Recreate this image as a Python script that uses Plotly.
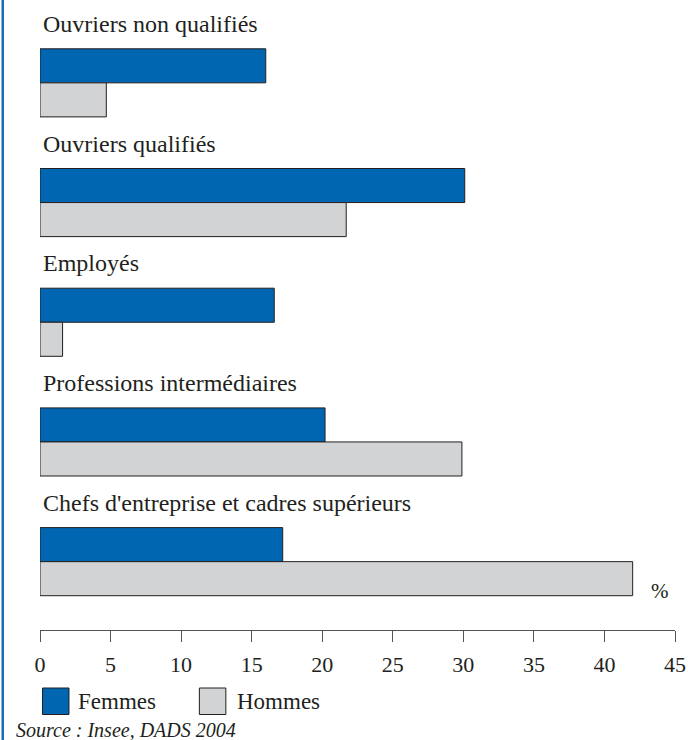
import plotly.graph_objects as go

# Part des salariés par catégorie socioprofessionnelle (%)
categories = [
    "Ouvriers non qualifiés",
    "Ouvriers qualifiés",
    "Employés",
    "Professions intermédiaires",
    "Chefs d'entreprise et cadres supérieurs",
]
femmes = [16.0, 30.1, 16.6, 20.2, 17.2]
hommes = [4.7, 21.7, 1.6, 29.9, 42.0]
x_ticks = [0, 5, 10, 15, 20, 25, 30, 35, 40, 45]

W, H = 688, 740
L, R, T, B = 40, 12.5, 23, 110
plot_w = W - L - R
plot_h = H - T - B

BLUE = "#0066b2"
GREY = "#d1d3d4"
EDGE = "#231f20"
TEXT = "#231f20"
FONT = "Times New Roman"


def px_x(px):
    return (px - L) / plot_w


def px_y(py):
    return (H - B - py) / plot_h


fig = go.Figure()
fig.add_trace(go.Bar(
    y=categories, x=femmes, orientation="h", name="Femmes",
    marker=dict(color=BLUE, line=dict(color=EDGE, width=1)),
    hoverinfo="x+name",
))
fig.add_trace(go.Bar(
    y=categories, x=hommes, orientation="h", name="Hommes",
    marker=dict(color=GREY, line=dict(color=EDGE, width=1)),
    hoverinfo="x+name",
))

# category titles above each pair of bars
annotations = []
for i, cat in enumerate(categories):
    annotations.append(dict(
        x=0, y=i, xref="x", yref="y", text=cat, showarrow=False,
        xanchor="left", yanchor="middle", xshift=1, yshift=59,
        font=dict(family=FONT, size=24, color=TEXT),
    ))

# unit
annotations.append(dict(
    x=px_x(660), y=px_y(591), xref="paper", yref="paper", text="%",
    showarrow=False, xanchor="center", yanchor="middle",
    font=dict(family=FONT, size=21, color=TEXT),
))

# legend
shapes = []
legend_items = [("Femmes", BLUE, 42.5, 76), ("Hommes", GREY, 199.5, 235)]
for label, col, x0, tx in legend_items:
    shapes.append(dict(
        type="rect", xref="paper", yref="paper",
        x0=px_x(x0), x1=px_x(x0 + 26.5), y0=px_y(714.5), y1=px_y(688),
        fillcolor=col, line=dict(color=EDGE, width=1),
    ))
    annotations.append(dict(
        x=px_x(tx), y=px_y(701), xref="paper", yref="paper", text=label,
        showarrow=False, xanchor="left", yanchor="middle",
        font=dict(family=FONT, size=23, color=TEXT),
    ))

# source
annotations.append(dict(
    x=px_x(14), y=px_y(730), xref="paper", yref="paper",
    text="<i>Source : Insee, DADS 2004</i>",
    showarrow=False, xanchor="left", yanchor="middle",
    font=dict(family=FONT, size=20, color=TEXT),
))

# blue frame line on the left edge
shapes.append(dict(
    type="line", xref="paper", yref="paper",
    x0=px_x(2.7), x1=px_x(2.7), y0=px_y(0), y1=px_y(H),
    line=dict(color="#1a6db5", width=2.5),
))

n = len(categories)
fig.update_layout(
    width=W, height=H,
    margin=dict(l=L, r=R, t=T, b=B, pad=0, autoexpand=False),
    paper_bgcolor="white", plot_bgcolor="white",
    barmode="group", bargap=0.431, bargroupgap=0,
    showlegend=False,
    font=dict(family=FONT, size=22, color=TEXT),
    xaxis=dict(
        range=[0, 45], tickvals=x_ticks, ticktext=[str(t) for t in x_ticks],
        showgrid=False, zeroline=False, automargin=False,
        showline=True, linecolor="#555555", linewidth=1,
        ticks="outside", ticklen=11, tickcolor="#555555", tickwidth=1,
        tickfont=dict(family=FONT, size=22, color=TEXT),
        ticklabelstandoff=4,
        fixedrange=True,
    ),
    yaxis=dict(
        type="category", categoryorder="array", categoryarray=categories,
        range=[n - 1 + 0.571, -0.5], automargin=False,
        showticklabels=False, showgrid=False, zeroline=False,
        showline=False, ticks="", fixedrange=True,
    ),
    annotations=annotations,
    shapes=shapes,
)

fig.write_html("out.html")
